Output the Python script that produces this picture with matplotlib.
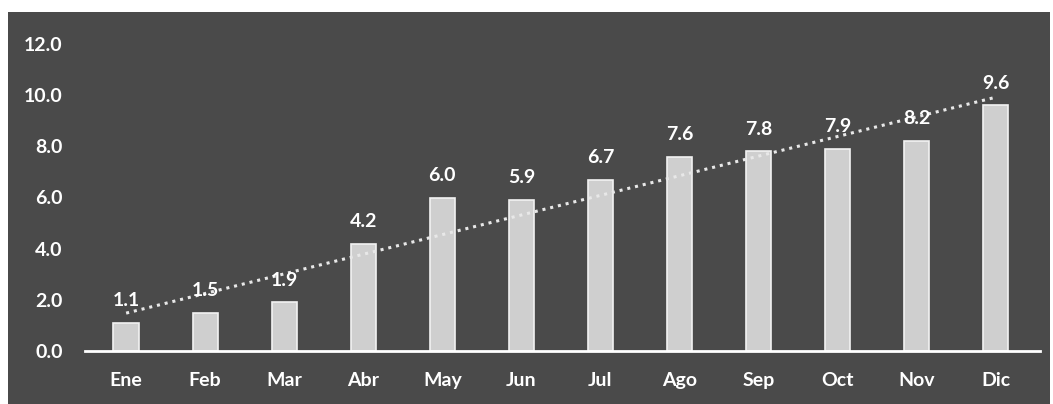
import matplotlib
matplotlib.use("Agg")
import matplotlib.pyplot as plt
import numpy as np

months = ["Ene", "Feb", "Mar", "Abr", "May", "Jun", "Jul", "Ago", "Sep", "Oct", "Nov", "Dic"]
values = [1.1, 1.5, 1.9, 4.2, 6.0, 5.9, 6.7, 7.6, 7.8, 7.9, 8.2, 9.6]
yticks = [0, 2, 4, 6, 8, 10, 12]

plt.rcParams['font.family'] = ['Lato', 'DejaVu Sans']

W, H = 1053, 404
fig = plt.figure(figsize=(W/100, H/100), dpi=100, facecolor='white')
bg_ax = fig.add_axes([8/W, 0, (1050-8)/W, 1-12/H], zorder=-1)
bg_ax.set_facecolor('#4a4a4a')
bg_ax.set_xticks([]); bg_ax.set_yticks([])
for s in bg_ax.spines.values():
    s.set_visible(False)

ax = fig.add_axes([85/W, 1-351/H, (1040-85)/W, (351-44)/H], zorder=1)
ax.set_facecolor('none')
x = np.arange(len(months))
ax.bar(x, values, width=0.32, color='#cfcfcf', edgecolor='#f2f2f2', linewidth=1.2, zorder=2)

fs = 14
for xi, v in zip(x, values):
    ax.annotate(f"{v:.1f}", (xi, v), xytext=(0, 10), textcoords='offset points',
                ha='center', va='bottom', color='white', fontsize=fs, fontweight='bold', zorder=4)

coef = np.polyfit(x, values, 1)
trend = np.polyval(coef, x)
ax.plot(x, trend, linestyle=(0, (1, 1.6)), color='#e8e8e8', linewidth=2.2, zorder=3)

ax.set_xlim(-0.52, 11.56)
ax.set_ylim(0, 12)
ax.set_yticks(yticks)
ax.set_yticklabels([f"{t:.1f}" for t in yticks], color='white', fontsize=fs, fontweight='bold')
ax.set_xticks(x)
ax.set_xticklabels(months, color='white', fontsize=fs, fontweight='bold')
ax.tick_params(axis='both', length=0)
ax.tick_params(axis='x', pad=15)
ax.tick_params(axis='y', pad=16)
for s in ['top', 'right', 'left']:
    ax.spines[s].set_visible(False)
ax.spines['bottom'].set_color('white')
ax.spines['bottom'].set_linewidth(2)

fig.savefig("out.png", dpi=100, facecolor='white')
